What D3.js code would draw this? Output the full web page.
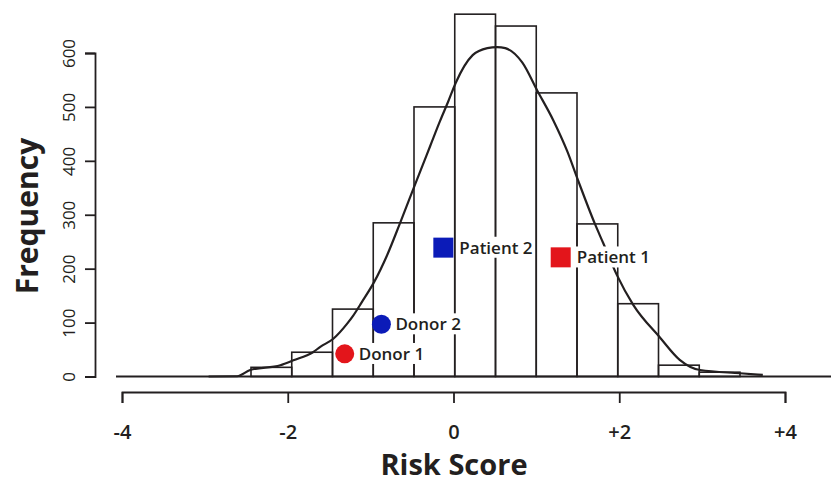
<!DOCTYPE html>
<html><head><meta charset="utf-8">
<script src="https://cdn.jsdelivr.net/npm/d3@7"></script>
<style>
body{margin:0;background:#fff}
svg{display:block}
text{font-family:"Open Sans",sans-serif;fill:#231f20}
</style>
</head><body>
<svg id="c" width="831" height="482"></svg>
<script>
// ---- data ----
const binStarts = [-2.5,-2,-1.5,-1,-0.5,0,0.5,1,1.5,2,2.5,3];
const binWidth = 0.5;
const counts = [17,45,125,285,500,672,650,526,283,135,21,8];
const curveX = [-3.02,-2.67,-2.51,-2.14,-1.98,-1.74,-1.65,-1.49,-1.32,-1.25,-1.14,-0.99,-0.83,-0.67,-0.49,-0.30,-0.18,-0.08,0.01,0.22,0.40,0.52,0.62,0.83,1.01,1.21,1.38,1.51,1.72,1.82,1.99,2.19,2.52,2.76,3.01,3.50,3.78];
const curveY = [0,0.5,12,21,30,45,55,70,98,112,138,175,225,285,355,428,474,510,544,596,609,611,609,582,531,475,418,365,283,248,188,133,72,31,12,6,3];
const markerNames = ["Donor 1","Donor 2","Patient 2","Patient 1"];
const markerX = [-1.35,-0.90,-0.14,1.30];
const markerY = [42,97,239,221];
const yTicks = [0,100,200,300,400,500,600];
const xTicks = [-4,-2,0,2,4];

// ---- styles ----
const ink = "#231f20";
const markerShape = ["circle","circle","square","square"];
const markerColor = ["#e3151b","#0b1bb8","#0b1bb8","#e3151b"];

const svg = d3.select("#c");
const xPlot = d3.scaleLinear().domain([-2.5,3.5]).range([251,740]);
const xAxisScale = d3.scaleLinear().domain([-4,4]).range([122,785]);
const y = d3.scaleLinear().domain([0,600]).range([376.5,53]);

// bars
svg.append("g").selectAll("rect").data(binStarts).join("rect")
  .attr("x", d => xPlot(d))
  .attr("y", (d,i) => y(counts[i]))
  .attr("width", d => xPlot(d+binWidth) - xPlot(d))
  .attr("height", (d,i) => y(0) - y(counts[i]))
  .attr("fill","none").attr("stroke",ink).attr("stroke-width",1.6);

// baseline
svg.append("line").attr("x1",116).attr("x2",831).attr("y1",y(0)).attr("y2",y(0))
  .attr("stroke",ink).attr("stroke-width",1.8);

// density curve
const line = d3.line().x(d => xPlot(d[0])).y(d => y(d[1])).curve(d3.curveMonotoneX);
svg.append("path").datum(curveX.map((v,i)=>[v,curveY[i]]))
  .attr("d", line).attr("fill","none").attr("stroke",ink).attr("stroke-width",2.2);

// y axis
const gy = svg.append("g").attr("transform","translate(95,0)")
  .call(d3.axisLeft(y).tickValues(yTicks).tickSize(10).tickSizeOuter(10));
gy.selectAll("path,line").attr("stroke",ink).attr("stroke-width",1.8);
gy.selectAll("text").attr("x",null).attr("dy",null)
  .attr("transform","translate(-20,0) rotate(-90)")
  .attr("text-anchor","middle")
  .style("font-family",'"Open Sans",sans-serif').style("font-size","17px").style("font-weight",500).attr("fill",ink);

// x axis
const gx = svg.append("g").attr("transform","translate(0,392)")
  .call(d3.axisBottom(xAxisScale).tickValues(xTicks).tickSize(11).tickSizeOuter(11)
    .tickFormat(d => d > 0 ? "+" + d : (d < 0 ? "-" + Math.abs(d) : "0")));
gx.selectAll("path,line").attr("stroke",ink).attr("stroke-width",1.8);
gx.selectAll("text").attr("y",47).attr("dy",null)
  .style("font-family",'"Open Sans",sans-serif').style("font-size","20px").style("font-weight",600).attr("fill",ink);

// axis titles
svg.append("text").attr("transform","translate(38,216) rotate(-90)").attr("text-anchor","middle")
  .style("font-size","30px").style("font-weight",700).text("Frequency");
svg.append("text").attr("x",454).attr("y",475).attr("text-anchor","middle")
  .style("font-size","29px").style("font-weight",700).text("Risk Score");

// markers and labels
const gm = svg.append("g");
markerNames.forEach((name,i) => {
  const cx = xPlot(markerX[i]), cy = y(markerY[i]);
  const t = gm.append("text").attr("x", cx + (markerShape[i]==="circle" ? 14 : 16)).attr("y", cy).attr("dy","0.36em")
    .style("font-size","17px").style("font-weight",600).text(name);
  const bb = t.node().getBBox();
  gm.insert("rect", () => t.node()).attr("x",bb.x-2).attr("y",bb.y+1).attr("width",bb.width+4).attr("height",bb.height-2)
    .attr("fill","#fff");
  if (markerShape[i]==="circle") {
    gm.append("circle").attr("cx",cx).attr("cy",cy).attr("r",9.5).attr("fill",markerColor[i]);
  } else {
    gm.append("rect").attr("x",cx-10).attr("y",cy-10).attr("width",20).attr("height",20).attr("fill",markerColor[i]);
  }
});
</script>
</body></html>
